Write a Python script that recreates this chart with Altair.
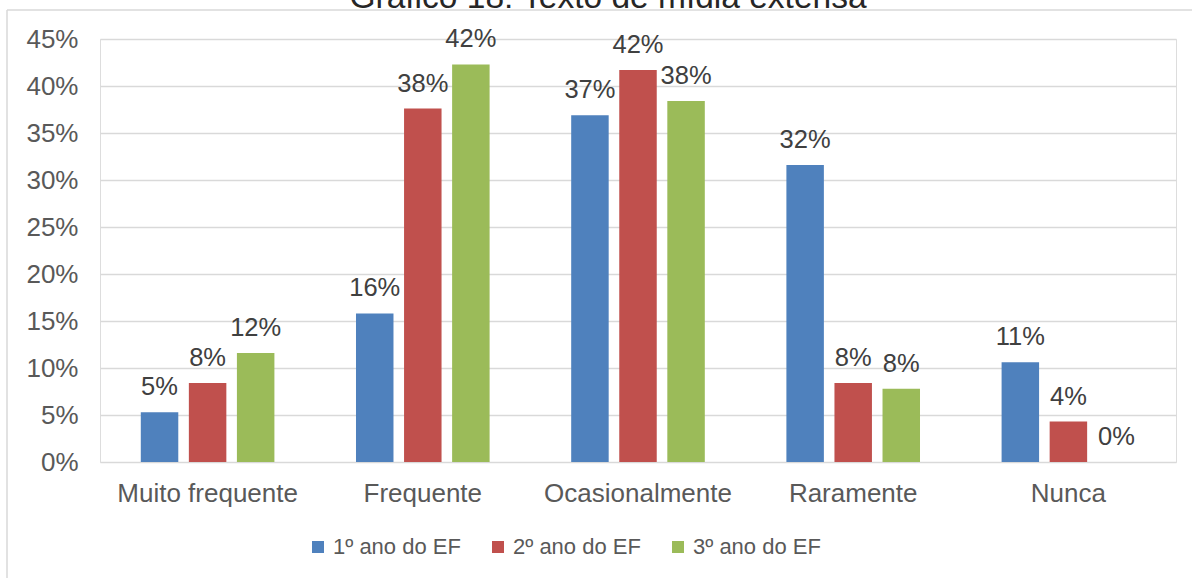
import altair as alt
import pandas as pd

categorias = ["Muito frequente", "Frequente", "Ocasionalmente", "Raramente", "Nunca"]
series = ["1º ano do EF", "2º ano do EF", "3º ano do EF"]
ano1 = [0.053, 0.158, 0.369, 0.316, 0.106]
ano2 = [0.084, 0.376, 0.417, 0.084, 0.043]
ano3 = [0.116, 0.423, 0.384, 0.078, 0.0]
cores = ["#4F81BD", "#C0504D", "#9BBB59"]
ticks_y = [0, 0.05, 0.10, 0.15, 0.20, 0.25, 0.30, 0.35, 0.40, 0.45]
titulo = "Gráfico 18: Texto de mídia extensa"

rows = []
for s, vals in zip(series, [ano1, ano2, ano3]):
    for c, v in zip(categorias, vals):
        rows.append({"categoria": c, "serie": s, "valor": v})
df = pd.DataFrame(rows)
one = pd.DataFrame({"k": [0]})

W, H = 1076, 423
FONT = "Liberation Sans"

x = alt.X(
    "categoria:N", sort=categorias,
    scale=alt.Scale(paddingInner=0.33, paddingOuter=0.165),
    axis=alt.Axis(title=None, labelAngle=0, labelFontSize=26, labelColor="#595959",
                  labelFont=FONT, ticks=False, domain=False, labelPadding=18, grid=False,
                  labelLimit=0),
)
y = alt.Y(
    "valor:Q",
    scale=alt.Scale(domain=[0, 0.45], nice=False),
    axis=alt.Axis(title=None, format=".0%", values=ticks_y, labelFontSize=26,
                  labelColor="#595959", labelFont=FONT, grid=True, gridColor="#d9d9d9",
                  gridWidth=1.3, ticks=False, domain=False, labelPadding=22),
)
xo = alt.XOffset("serie:N", sort=series, scale=alt.Scale(paddingInner=0.22, paddingOuter=0.11))

bars = alt.Chart(df).mark_bar().encode(
    x=x, y=y, xOffset=xo,
    color=alt.Color(
        "serie:N", sort=series,
        scale=alt.Scale(domain=series, range=cores),
        legend=alt.Legend(
            title=None, orient="none", legendX=207, legendY=497, direction="horizontal",
            symbolType="square", symbolSize=144, symbolStrokeWidth=0, labelFontSize=22,
            labelFont=FONT, labelColor="#595959", labelOffset=4, columnPadding=26, padding=0,
        ),
    ),
)

labels = alt.Chart(df).mark_text(
    dy=-17, baseline="alphabetic", align="center", fontSize=25.5, font=FONT, color="#404040"
).encode(x=x, y=y, xOffset=xo, text=alt.Text("valor:Q", format=".0%"))

title = alt.Chart(one).mark_text(
    text=titulo, fontSize=33.5, font=FONT, color="#262626", align="center", baseline="alphabetic"
).encode(x=alt.value(508), y=alt.value(-31))

frame_left = alt.Chart(one).mark_rule(color="#d9d9d9", strokeWidth=1.5).encode(
    x=alt.value(-93), y=alt.value(-29), y2=alt.value(H + 120)
)
frame_top = alt.Chart(one).mark_rule(color="#d9d9d9", strokeWidth=1.5).encode(
    x=alt.value(-93), x2=alt.value(W + 20), y=alt.value(-29), y2=alt.value(-29)
)

chart = alt.layer(frame_left, frame_top, bars, labels, title).properties(
    width=W, height=H,
    padding={"left": 100, "top": 39, "right": 16, "bottom": 116},
    autosize=alt.AutoSizeParams(type="none"),
).configure_view(stroke=None, strokeWidth=0, strokeOpacity=0).configure(background="white")

chart.save("out.html", embed_options={"renderer": "svg", "actions": False})
